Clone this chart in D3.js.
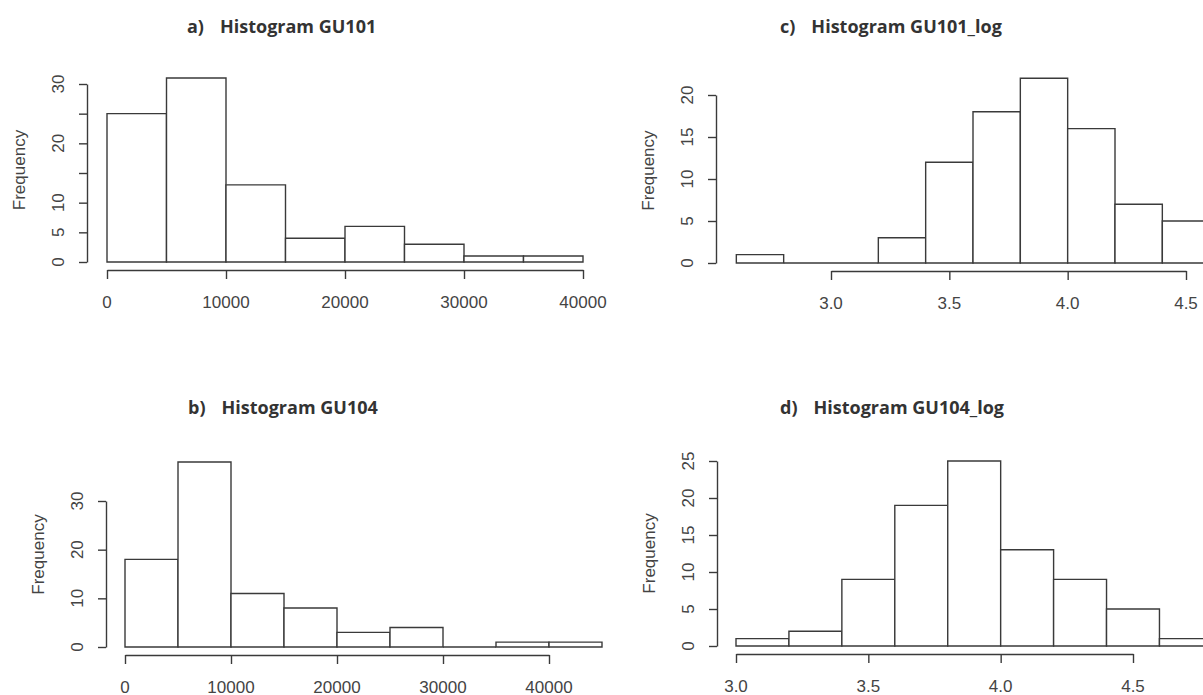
<!DOCTYPE html>
<html>
<head>
<meta charset="utf-8">
<script src="https://cdn.jsdelivr.net/npm/d3@7"></script>
<style>
  body { margin: 0; background: #fff; }
  svg { display: block; }
</style>
</head>
<body>
<script>
// counts per bin
var countsGU101    = [25, 31, 13, 4, 6, 3, 1, 1];
var breaksGU101    = [0, 5000, 10000, 15000, 20000, 25000, 30000, 35000, 40000];
var countsGU104    = [18, 38, 11, 8, 3, 4, 0, 1, 1];
var breaksGU104    = [0, 5000, 10000, 15000, 20000, 25000, 30000, 35000, 40000, 45000];
var countsGU101log = [1, 0, 0, 3, 12, 18, 22, 16, 7, 5];
var breaksGU101log = [2.6, 2.8, 3.0, 3.2, 3.4, 3.6, 3.8, 4.0, 4.2, 4.4, 4.6];
var countsGU104log = [1, 2, 9, 19, 25, 13, 9, 5, 1];
var breaksGU104log = [3.0, 3.2, 3.4, 3.6, 3.8, 4.0, 4.2, 4.4, 4.6, 4.8];

// tick values and labels
var xTicksRaw = [0, 10000, 20000, 30000, 40000];
var xTicksLog = [3.0, 3.5, 4.0, 4.5];
var yTicksA = [0, 5, 10, 15, 20, 25, 30];
var yLabelsA = [0, 5, 10, 20, 30];
var yTicksB = [0, 10, 20, 30];
var yTicksC = [0, 5, 10, 15, 20];
var yTicksD = [0, 5, 10, 15, 20, 25];

var titles = ["a)", "b)", "c)", "d)"];
var names = ["Histogram GU101", "Histogram GU104", "Histogram GU101_log", "Histogram GU104_log"];

var panels = [
  {title: titles[0], name: names[0], counts: countsGU101, breaks: breaksGU101,
   xd: [0, 40000], xr: [107, 583], yd: [0, 30], yr: [262, 84], yAxisX: 87,
   xTicks: xTicksRaw, xfmt: d3.format("d"), yTicks: yTicksA, yLabels: yLabelsA,
   tx: 187, ty: 26},
  {title: titles[1], name: names[1], counts: countsGU104, breaks: breaksGU104,
   xd: [0, 40000], xr: [125, 549], yd: [0, 30], yr: [647, 501], yAxisX: 106,
   xTicks: xTicksRaw, xfmt: d3.format("d"), yTicks: yTicksB, yLabels: yTicksB,
   tx: 188, ty: 407},
  {title: titles[2], name: names[2], counts: countsGU101log, breaks: breaksGU101log,
   xd: [3.0, 4.5], xr: [831, 1186], yd: [0, 20], yr: [263, 95], yAxisX: 716,
   xTicks: xTicksLog, xfmt: d3.format(".1f"), yTicks: yTicksC, yLabels: yTicksC,
   tx: 780, ty: 26},
  {title: titles[3], name: names[3], counts: countsGU104log, breaks: breaksGU104log,
   xd: [3.0, 4.5], xr: [736, 1133], yd: [0, 25], yr: [646, 461], yAxisX: 717,
   xTicks: xTicksLog, xfmt: d3.format(".1f"), yTicks: yTicksD, yLabels: yTicksD,
   tx: 780, ty: 407}
];

var ink = "#3a3a3a";
var svg = d3.select("body").append("svg")
  .attr("width", 1203)
  .attr("height", 695);

panels.forEach(function(p) {
  var x = d3.scaleLinear().domain(p.xd).range(p.xr);
  var y = d3.scaleLinear().domain(p.yd).range(p.yr);
  var g = svg.append("g");

  var bins = p.counts.map(function(c, i) {
    return {x0: p.breaks[i], x1: p.breaks[i + 1], n: c};
  });

  // bars as closed paths so empty bins still show as a flat line
  g.selectAll("path.bar")
    .data(bins)
    .enter()
    .append("path")
    .attr("class", "bar")
    .attr("d", function(d) {
      var p0 = d3.path();
      p0.rect(x(d.x0), y(d.n), x(d.x1) - x(d.x0), y(0) - y(d.n));
      return p0.toString();
    })
    .attr("fill", "#fff")
    .attr("stroke", ink)
    .attr("stroke-width", 1.4);

  // x axis, offset below the bars like base R
  var xa = g.append("g")
    .attr("transform", "translate(0," + (y(0) + 8) + ")")
    .call(d3.axisBottom(x).tickValues(p.xTicks).tickSize(9).tickSizeOuter(0).tickFormat(""));
  xa.selectAll("path, line").attr("stroke", ink).attr("stroke-width", 1.4);

  g.selectAll(".xl")
    .data(p.xTicks)
    .enter()
    .append("text")
    .attr("x", function(d) { return x(d); })
    .attr("y", y(0) + 40)
    .attr("text-anchor", "middle")
    .attr("dominant-baseline", "central")
    .style("font", "17px 'Liberation Sans', Arial, sans-serif")
    .style("fill", "#444")
    .text(p.xfmt);

  var ya = g.append("g")
    .attr("transform", "translate(" + p.yAxisX + ",0)")
    .call(d3.axisLeft(y).tickValues(p.yTicks).tickSize(8).tickSizeOuter(0).tickFormat(""));
  ya.selectAll("path, line").attr("stroke", ink).attr("stroke-width", 1.4);

  g.selectAll(".yl")
    .data(p.yLabels)
    .enter()
    .append("text")
    .attr("transform", function(d) {
      return "translate(" + (p.yAxisX - 29) + "," + y(d) + ") rotate(-90)";
    })
    .attr("text-anchor", "middle")
    .attr("dominant-baseline", "central")
    .style("font", "17px 'Liberation Sans', Arial, sans-serif")
    .style("fill", "#444")
    .text(function(d) { return d; });

  var mid = (y(0) + y(d3.max(p.counts))) / 2;
  g.append("text")
    .attr("transform", "translate(" + (p.yAxisX - 68) + "," + mid + ") rotate(-90)")
    .attr("text-anchor", "middle")
    .attr("dominant-baseline", "central")
    .style("font", "17px 'Liberation Sans', Arial, sans-serif")
    .style("fill", "#444")
    .text("Frequency");

  var t = g.append("text")
    .attr("x", p.tx)
    .attr("y", p.ty)
    .attr("dominant-baseline", "central")
    .style("font", "bold 18px 'Open Sans', sans-serif")
    .style("fill", "#333");
  t.append("tspan").text(p.title);
  t.append("tspan").attr("dx", 16).text(p.name);
});
</script>
</body>
</html>
